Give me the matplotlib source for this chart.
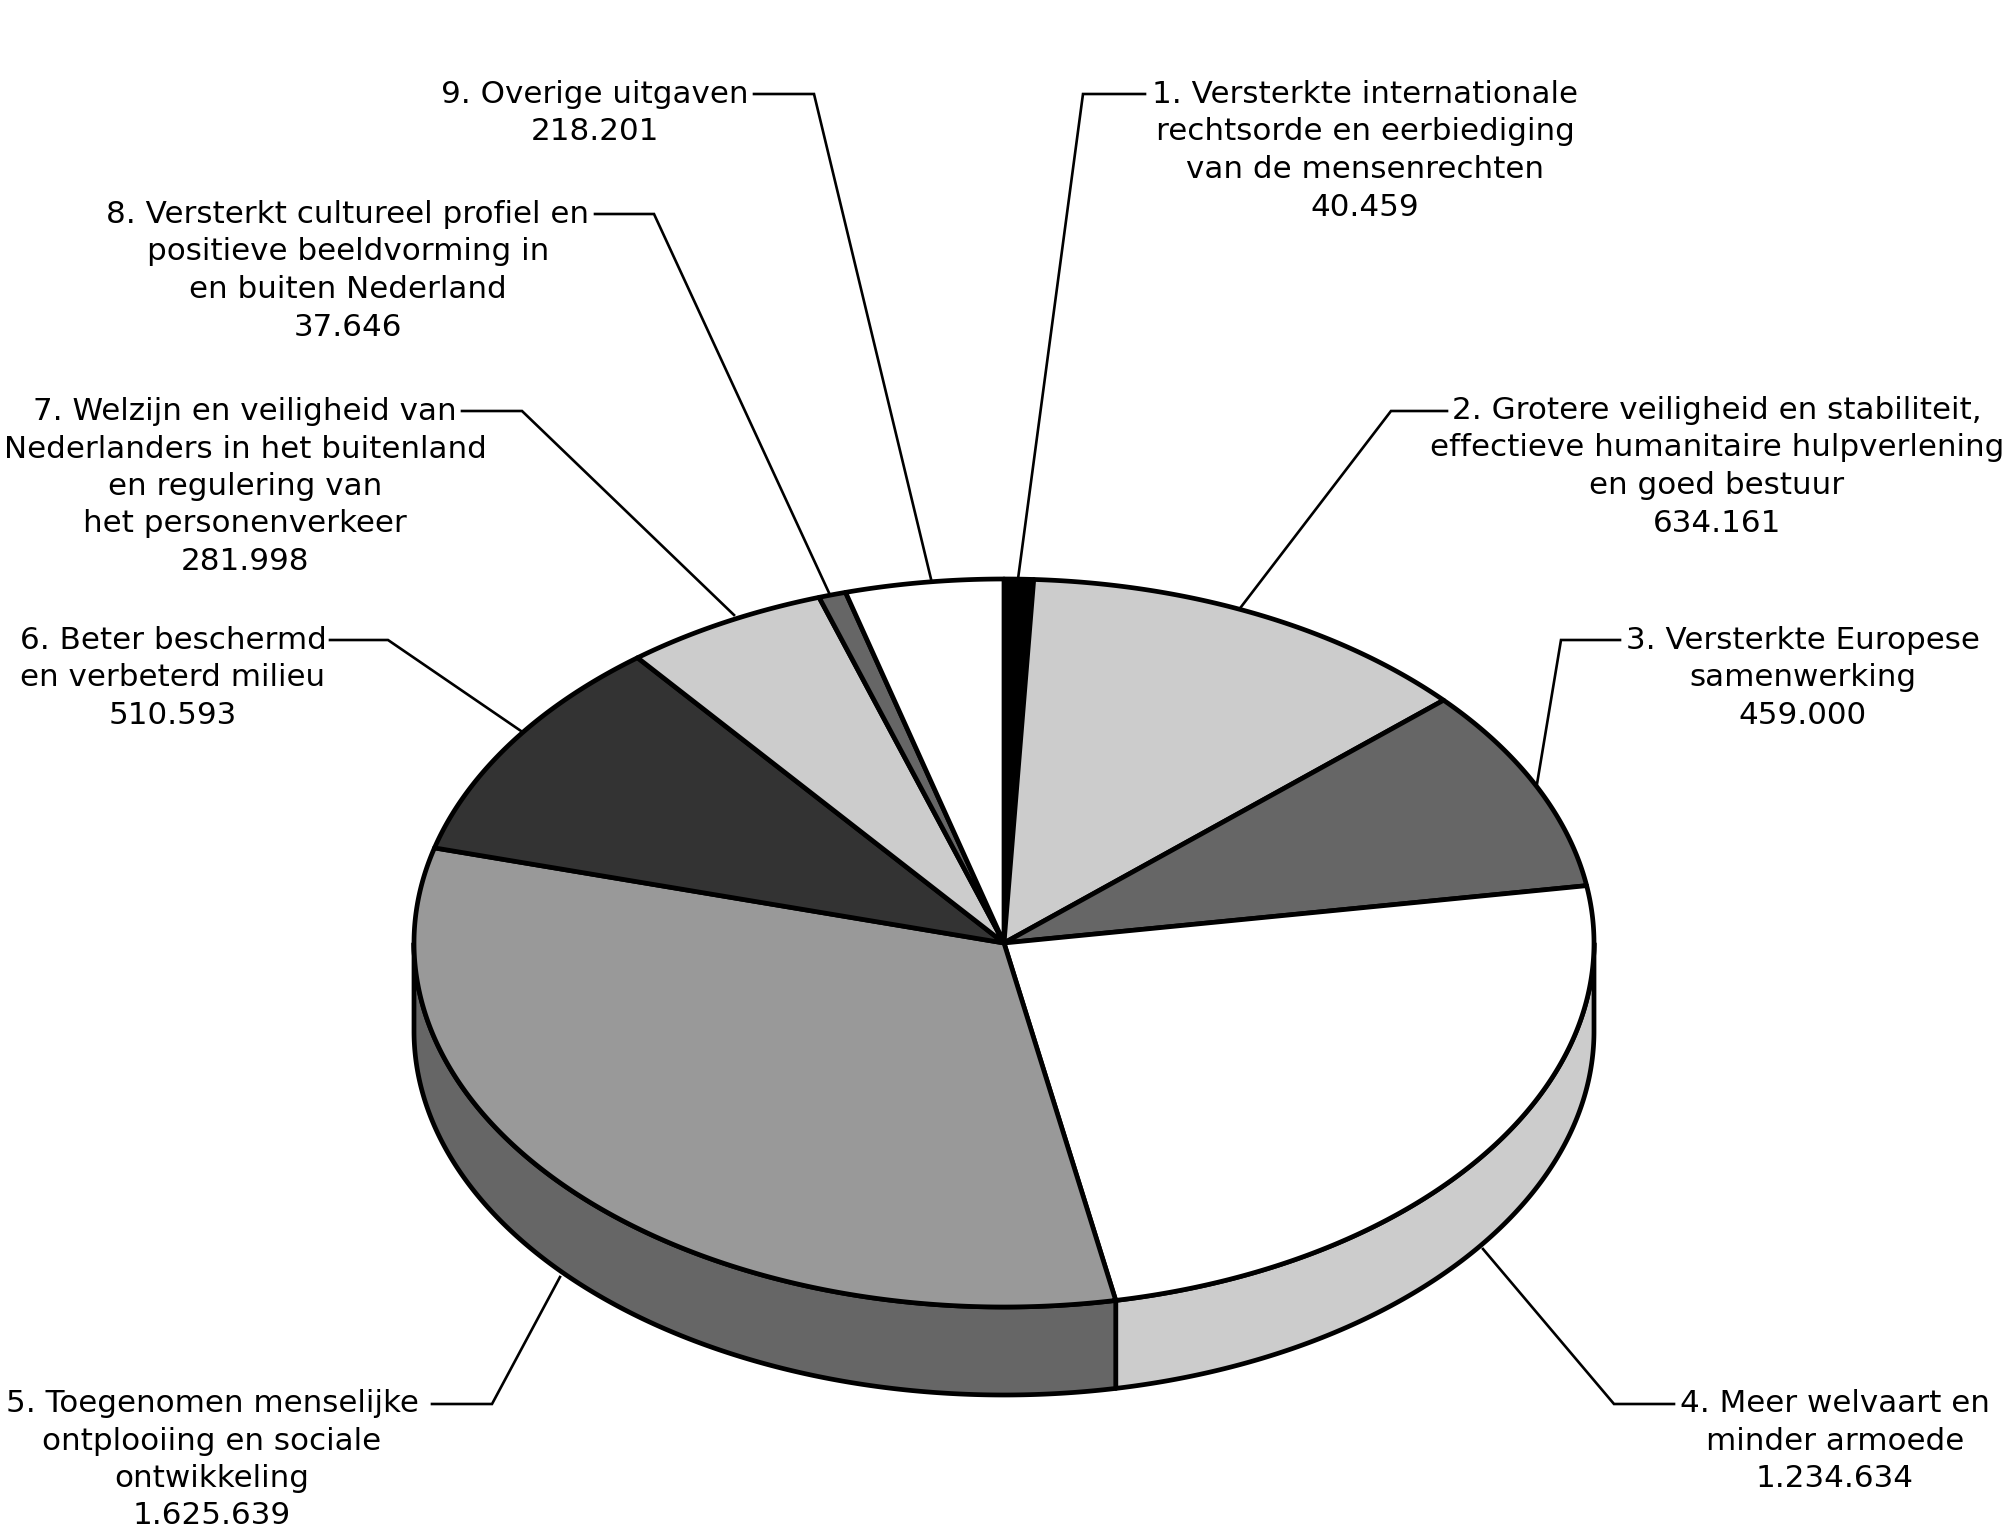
import numpy as np
import matplotlib
matplotlib.use('Agg')
import matplotlib.pyplot as plt

# uitgaven per beleidsartikel
waarden = [40459, 634161, 459000, 1234634, 1625639, 510593, 281998, 37646, 218201]
labels = [
    ['1. Versterkte internationale', 'rechtsorde en eerbiediging', 'van de mensenrechten', '40.459'],
    ['2. Grotere veiligheid en stabiliteit,', 'effectieve humanitaire hulpverlening', 'en goed bestuur', '634.161'],
    ['3. Versterkte Europese', 'samenwerking', '459.000'],
    ['4. Meer welvaart en', 'minder armoede', '1.234.634'],
    ['5. Toegenomen menselijke', 'ontplooiing en sociale', 'ontwikkeling', '1.625.639'],
    ['6. Beter beschermd', 'en verbeterd milieu', '510.593'],
    ['7. Welzijn en veiligheid van', 'Nederlanders in het buitenland', 'en regulering van', 'het personenverkeer', '281.998'],
    ['8. Versterkt cultureel profiel en', 'positieve beeldvorming in', 'en buiten Nederland', '37.646'],
    ['9. Overige uitgaven', '218.201'],
]
kleur_top = ['#000000', '#cccccc', '#666666', '#ffffff', '#999999', '#333333', '#cccccc', '#666666', '#ffffff']
kleur_zij = ['#000000', '#999999', '#333333', '#cccccc', '#666666', '#000000', '#999999', '#333333', '#cccccc']

# plaats van de tekst: midden x, y van de eerste regel (beeldpunten)
tekst_x = [1365, 1717, 1803, 1835, 212, 173, 245, 348, 595]
tekst_y = [94, 410, 640, 1403, 1403, 640, 411, 214, 94]
# aanwijslijnen: begin, knik, punt op de taart
lijnen = [
    [(1145, 94), (1083, 94), (1018, 579)],
    [(1447, 411), (1391, 411), (1241, 607)],
    [(1620, 640), (1561, 640), (1537, 784)],
    [(1674, 1404), (1614, 1404), (1483, 1249)],
    [(432, 1404), (492, 1404), (560, 1277)],
    [(330, 640), (388, 640), (521, 731)],
    [(462, 411), (522, 411), (734, 615)],
    [(595, 214), (654, 214), (830, 595)],
    [(754, 94), (814, 94), (931, 579)],
]

cx, cy = 1004, 943
rx, ry = 590, 364
diepte = 88
regel = 37.5


def rand(t1, t2, dy=0):
    # t in graden, met de klok mee vanaf boven
    t = np.radians(np.linspace(t1, t2, max(int(abs(t2 - t1) * 3), 2)))
    return cx + rx * np.sin(t), cy - ry * np.cos(t) + dy


fig = plt.figure(figsize=(20.08, 15.34), dpi=100)
ax = fig.add_axes([0, 0, 1, 1])
ax.set_xlim(0, 2008)
ax.set_ylim(1534, 0)
ax.axis('off')

grenzen = np.concatenate([[0], np.cumsum(waarden)]) / sum(waarden) * 360

# zijkant
for i in range(len(waarden)):
    t1, t2 = max(grenzen[i], 90), min(grenzen[i + 1], 270)
    if t1 >= t2:
        continue
    x1, y1 = rand(t1, t2)
    x2, y2 = rand(t2, t1, diepte)
    ax.fill(np.r_[x1, x2], np.r_[y1, y2], facecolor=kleur_zij[i], edgecolor='black',
            linewidth=3.4, joinstyle='round', zorder=2)

# bovenkant
for i in range(len(waarden)):
    x, y = rand(grenzen[i], grenzen[i + 1])
    ax.fill(np.r_[cx, x], np.r_[cy, y], facecolor=kleur_top[i], edgecolor='black',
            linewidth=3.4, joinstyle='round', zorder=3)

for i, lijn in enumerate(lijnen):
    ax.plot([p[0] for p in lijn], [p[1] for p in lijn], color='black', linewidth=1.9,
            solid_joinstyle='miter', zorder=1)
    for j, s in enumerate(labels[i]):
        ax.text(tekst_x[i], tekst_y[i] + 9 + j * regel, s, ha='center', va='baseline',
                fontsize=22.3, family='DejaVu Sans', color='black')

plt.savefig('out.png', dpi=100)
